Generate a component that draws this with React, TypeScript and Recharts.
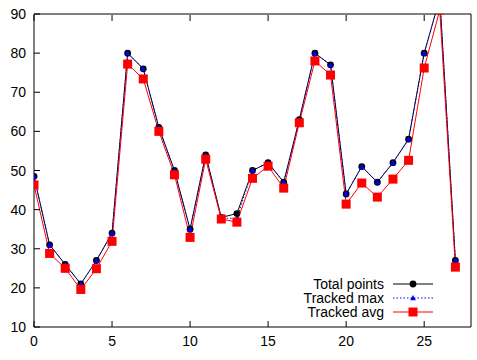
import { Legend, Line, LineChart, XAxis, YAxis } from 'recharts'

const steps = [0, 1, 2, 3, 4, 5, 6, 7, 8, 9, 10, 11, 12, 13, 14, 15, 16, 17, 18, 19, 20, 21, 22, 23, 24, 25, 26, 27]
const totalPoints = [48.5, 31, 26, 21, 27, 34, 80, 76, 61, 50, 35, 54, 38, 39, 50, 52, 47, 63, 80, 77, 44, 51, 47, 52, 58, 80, 94, 27]
const trackedMax = [48.5, 31, 26, 21, 27, 34, 80, 76, 61, 50, 35, 54, 37.8, 37.8, 50, 52, 47, 63, 80, 77, 44, 51, 47, 52, 58, 80, 94, 27]
const trackedAvg = [46.3, 28.8, 25, 19.6, 24.9, 31.9, 77.2, 73.4, 60, 48.9, 32.9, 52.9, 37.6, 36.8, 48, 51.1, 45.5, 62.2, 78, 74.4, 41.4, 46.8, 43.2, 47.8, 52.6, 76.2, 91, 25.3]

const xTicks = [0, 5, 10, 15, 20, 25]
const yTicks = [10, 20, 30, 40, 50, 60, 70, 80, 90]

const data = steps.map((s, i) => ({
  step: s,
  total: totalPoints[i],
  max: trackedMax[i],
  avg: trackedAvg[i],
}))

const FONT = '"Liberation Sans", Arial, sans-serif'
const TICK = 6

function BottomTick({ x, y, payload }: any) {
  return (
    <g>
      <line x1={x} x2={x} y1={y} y2={y - TICK} stroke="#000" />
      <text x={x} y={y + 19} textAnchor="middle" fontSize={14} fontFamily={FONT} fill="#000">
        {payload.value}
      </text>
    </g>
  )
}

function TopTick({ x, y }: any) {
  return <line x1={x} x2={x} y1={y + 1} y2={y + 1 + TICK} stroke="#000" />
}

function LeftTick({ x, y, payload }: any) {
  return (
    <g>
      <line x1={x} x2={x + TICK} y1={y} y2={y} stroke="#000" />
      <text x={x - 8} y={y + 5} textAnchor="end" fontSize={14} fontFamily={FONT} fill="#000">
        {payload.value}
      </text>
    </g>
  )
}

function RightTick({ x, y }: any) {
  return <line x1={x} x2={x - TICK} y1={y} y2={y} stroke="#000" />
}

function Circle({ cx, cy }: any) {
  if (cx == null || cy == null) return null
  return <circle cx={cx} cy={cy} r={3.4} fill="#000" />
}

function Triangle({ cx, cy }: any) {
  if (cx == null || cy == null) return null
  const s = 2.9
  return <path d={`M${cx},${cy - s} L${cx + s},${cy + s * 0.8} L${cx - s},${cy + s * 0.8} Z`} fill="#0000ff" />
}

function Square({ cx, cy }: any) {
  if (cx == null || cy == null) return null
  const s = 4.5
  return <rect x={cx - s} y={cy - s} width={s * 2} height={s * 2} fill="#ff0000" />
}

const legendRows = [
  { label: 'Total points', color: '#000', dash: undefined, marker: 'circle' },
  { label: 'Tracked max', color: '#0000ff', dash: '1.5 2', marker: 'triangle' },
  { label: 'Tracked avg', color: '#ff0000', dash: undefined, marker: 'square' },
]

function LegendBox() {
  return (
    <svg width={160} height={44} style={{ display: 'block' }}>
      {legendRows.map((row, i) => {
        const cy = 8 + i * 14
        return (
          <g key={row.label}>
            <text x={94} y={cy + 5} textAnchor="end" fontSize={14} fontFamily={FONT} fill="#000">
              {row.label}
            </text>
            <line x1={103} x2={143} y1={cy} y2={cy} stroke={row.color} strokeDasharray={row.dash} />
            {row.marker === 'circle' && <Circle cx={123} cy={cy} />}
            {row.marker === 'triangle' && <Triangle cx={123} cy={cy} />}
            {row.marker === 'square' && <Square cx={123} cy={cy} />}
          </g>
        )
      })}
    </svg>
  )
}

export default function App() {
  return (
    <div style={{ position: 'absolute', left: 0, top: 0, width: 477, height: 360, background: '#fff' }}>
      <LineChart width={477} height={360} data={data} margin={{ top: 13, right: 5, bottom: 0, left: 0 }}>
        <XAxis
          dataKey="step"
          type="number"
          domain={[0, 28]}
          ticks={xTicks}
          height={33}
          tickSize={0}
          tickMargin={0}
          axisLine={{ stroke: '#000' }}
          tick={<BottomTick />}
          allowDataOverflow
        />
        <XAxis
          xAxisId="top"
          dataKey="step"
          type="number"
          orientation="top"
          domain={[0, 28]}
          ticks={xTicks}
          height={1}
          tickSize={0}
          tickMargin={0}
          axisLine={{ stroke: '#000' }}
          tick={<TopTick />}
        />
        <YAxis
          type="number"
          domain={[10, 90]}
          ticks={yTicks}
          width={34}
          tickSize={0}
          tickMargin={0}
          axisLine={{ stroke: '#000' }}
          tick={<LeftTick />}
          allowDataOverflow
        />
        <YAxis
          yAxisId="right"
          type="number"
          orientation="right"
          domain={[10, 90]}
          ticks={yTicks}
          width={1}
          tickSize={0}
          tickMargin={0}
          axisLine={{ stroke: '#000' }}
          tick={<RightTick />}
        />
        <Legend
          layout="vertical"
          align="center"
          verticalAlign="middle"
          content={<LegendBox />}
          wrapperStyle={{ position: 'absolute', left: 290, top: 276, width: 160, height: 44 }}
        />
        <Line
          type="linear"
          dataKey="total"
          name="Total points"
          stroke="#000"
          strokeWidth={1}
          dot={<Circle />}
          activeDot={false}
          isAnimationActive={false}
        />
        <Line
          type="linear"
          dataKey="max"
          name="Tracked max"
          stroke="#0000ff"
          strokeWidth={1}
          strokeDasharray="1.5 2"
          dot={<Triangle />}
          activeDot={false}
          isAnimationActive={false}
        />
        <Line
          type="linear"
          dataKey="avg"
          name="Tracked avg"
          stroke="#ff0000"
          strokeWidth={1}
          dot={<Square />}
          activeDot={false}
          isAnimationActive={false}
        />
      </LineChart>
    </div>
  )
}
